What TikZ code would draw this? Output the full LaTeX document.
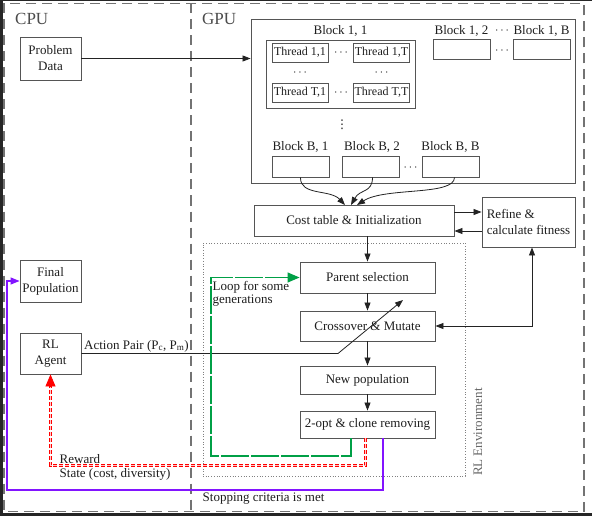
\documentclass[tikz,border=0pt]{standalone}
\usepackage{fontspec}
\setmainfont{Liberation Serif}
\newfontfamily\dejavu{DejaVu Sans}
\usetikzlibrary{arrows.meta,calc}
\definecolor{bord}{RGB}{85,85,85}
\definecolor{framec}{RGB}{115,115,115}
\definecolor{loopgreen}{RGB}{0,160,70}
\definecolor{violetline}{RGB}{130,20,255}
\definecolor{edgec}{RGB}{35,35,35}
\definecolor{txt}{RGB}{30,30,30}
\newcommand\mainfs{\fontsize{13}{16}\selectfont}
\newcommand\thfs{\fontsize{12}{13}\selectfont}
\begin{document}
\begin{tikzpicture}[x=1pt,y=-1pt,
  box/.style={draw=bord, line width=0.9pt, inner sep=0pt, font=\mainfs, text=txt, align=center},
  tbox/.style={box, font=\thfs, minimum width=56pt, minimum height=19pt},
  sbox/.style={box, minimum width=57pt, minimum height=20pt},
  lbl/.style={font=\mainfs, text=txt, inner sep=0pt},
  dotsn/.style={font=\mainfs, text=txt, inner sep=0pt},
  framedash/.style={draw=framec, line width=1.4pt, dash pattern=on 10pt off 6pt},
  arr/.style={draw=edgec, line width=0.8pt, -{Triangle[length=8pt,width=6pt]}},
  arrtwo/.style={draw=edgec, line width=0.8pt, {Triangle[length=8pt,width=6pt]}-{Triangle[length=8pt,width=6pt]}},
  greenline/.style={draw=loopgreen, line width=1.2pt, dash pattern=on 28pt off 2pt, -{Triangle[length=12pt,width=10pt]}},
  reddouble/.style={draw=red, double=red!22, double distance=1.8pt, line width=0.8pt, dash pattern=on 4pt off 2pt},
  redtip/.style={draw=red, line width=0.8pt, -{Triangle[length=12pt,width=10pt]}},
  purpleline/.style={draw=violetline, line width=1.1pt, -{Triangle[length=9pt,width=7pt]}}
]
\useasboundingbox (0,0) rectangle (592,516);
\fill[black!85] (0,0) rectangle (592,516);
\fill[white] (2.5,1.5) rectangle (592,513);
\draw[framedash] (4,3.5) rectangle (584,511.5);
\draw[framedash] (191,3.5) -- (191,511.5);

% titles
\node[anchor=base west, font=\fontsize{17}{20}\selectfont, text=black!70, inner sep=0pt] (cpu) at (15,25) {CPU};
\node[anchor=base west, font=\fontsize{17}{20}\selectfont, text=black!70, inner sep=0pt] (gpu) at (202,25) {GPU};

% CPU side
\node[box, minimum width=61pt, minimum height=43pt] (pd) at (50.5,58.5) {Problem\\Data};
\node[box, minimum width=61pt, minimum height=42pt] (fp) at (50.5,281) {Final\\Population};
\node[box, minimum width=61pt, minimum height=41pt] (rl) at (50.5,353.5) {RL\\Agent};

% GPU grid
\node[box, minimum width=324pt, minimum height=164pt] (gpubox) at (413,101) {};
\node[box, minimum width=149pt, minimum height=68pt] (b11) at (340.5,74) {};
\node[lbl] (lb11) at (340.5,31) {Block 1, 1};
\node[tbox] (t11) at (300,52.5) {Thread 1,1};
\node[tbox] (t1T) at (381.5,52.5) {Thread 1,T};
\node[tbox] (tT1) at (300,92.5) {Thread T,1};
\node[tbox] (tTT) at (381.5,92.5) {Thread T,T};
\node[dotsn] (d1) at (341,53) {$\cdots$};
\node[dotsn] (d2) at (300,73) {$\cdots$};
\node[dotsn] (d3) at (381.5,73) {$\cdots$};
\node[dotsn] (d4) at (341,93) {$\cdots$};

\node[sbox] (b12) at (461.5,49) {};
\node[lbl] (lb12) at (461.5,31) {Block 1, 2};
\node[sbox] (b1B) at (541.5,49) {};
\node[lbl] (lb1B) at (541.5,31) {Block 1, B};
\node[dotsn] (d5) at (502,31) {$\cdots$};
\node[dotsn] (d6) at (502,51) {$\cdots$};

\node[font=\dejavu\fontsize{12}{14}\selectfont, text=txt, inner sep=0pt] (vd) at (342,125) {⋮};

\node[sbox, minimum height=21pt] (bB1) at (300.5,166.5) {};
\node[lbl] (lbB1) at (300.5,147) {Block B, 1};
\node[sbox, minimum height=21pt] (bB2) at (370.5,166.5) {};
\node[lbl] (lbB2) at (372,147) {Block B, 2};
\node[sbox, minimum height=21pt] (bBB) at (450.5,166.5) {};
\node[lbl] (lbBB) at (450.5,147) {Block B, B};
\node[dotsn] (d7) at (410.5,168) {$\cdots$};

% main flow
\node[box, minimum width=200pt, minimum height=31pt] (cost) at (354,220.5) {Cost table \& Initialization};
\node[box, minimum width=93pt, minimum height=50pt, align=left] (refine) at (528.5,222) {Refine \&\\calculate fitness};

\node[draw=black!50, dotted, line width=0.7pt, minimum width=262pt, minimum height=233pt, inner sep=0pt] (env) at (334,359.5) {};
\node[rotate=90, font=\mainfs, text=black!60, inner sep=0pt] (envlbl) at (478,432) {RL Environment};

\node[box, minimum width=135pt, minimum height=31pt] (ps) at (367.5,277.5) {Parent selection};
\node[box, minimum width=135pt, minimum height=30pt] (cm) at (367.5,326) {Crossover \& Mutate};
\node[box, minimum width=135pt, minimum height=28pt] (np) at (367.5,380) {New population};
\node[box, minimum width=135pt, minimum height=27pt] (two) at (367.5,424.5) {2-opt \& clone removing};

% connectors
\draw[arr] (pd.east) -- (pd.east -| gpubox.west);

\coordinate (c1) at (345,205);
\coordinate (c2) at (351,205);
\coordinate (c3) at (357,205);
\draw[arr] (bB1.south) .. controls (300,196) and (330,189) .. (c1);
\draw[arr] ([xshift=2pt]bB2.south) .. controls (372.5,193) and (360,189) .. (c2);
\draw[arr] ([xshift=4pt]bBB.south) .. controls (454.5,196) and (385,187) .. (c3);

\draw[arr] ([yshift=8.5pt]cost.east) -- ([yshift=8.5pt]cost.east -| refine.west);
\draw[arr] ([yshift=-10.5pt]cost.east -| refine.west) -- ([yshift=-10.5pt]cost.east);

\draw[arr] (cost.south -| ps.north) -- (ps.north);
\draw[arr] (ps.south) -- (cm.north);
\draw[arr] (cm.south) -- (np.north);
\draw[arr] (np.south) -- (two.north);
\draw[arrtwo] (cm.east) -| ([xshift=3.5pt]refine.south);

\coordinate (a1) at (338,353.5);
\coordinate (a2) at (403,300);
\draw[arr] (rl.east) -- (a1) -- (a2);
\node[anchor=base west, font=\mainfs, text=txt, inner sep=0pt] (actlbl) at (84,349) {Action Pair (P\textsubscript{c}, P\textsubscript{m})};

\coordinate (g1) at (211,456);
\draw[greenline] ([xshift=-16.5pt]two.south) |- (g1) |- (ps.west);
\node[anchor=north west, align=left, font=\fontsize{13}{13}\selectfont, text=txt, inner sep=0pt] (looplbl) at (212.5,281.5) {Loop for some\\generations};

\coordinate (r1) at (50.5,465.5);
\draw[reddouble] ([xshift=-2pt]two.south) |- (r1) -- ([yshift=-12pt]rl.south);
\draw[redtip] ([yshift=-12pt]rl.south) -- (rl.south);
\node[anchor=base west, font=\mainfs, text=txt, inner sep=0pt] (rew) at (59.5,463) {Reward};
\node[anchor=base west, font=\mainfs, text=txt, inner sep=0pt] (st) at (59.5,477.5) {State (cost, diversity)};

\coordinate (p1) at (7,490);
\draw[purpleline] ([xshift=15.5pt]two.south) |- (p1) |- (fp.west);
\node[anchor=base west, font=\mainfs, text=txt, inner sep=0pt] (stop) at (202.5,501) {Stopping criteria is met};
\end{tikzpicture}
\end{document}
